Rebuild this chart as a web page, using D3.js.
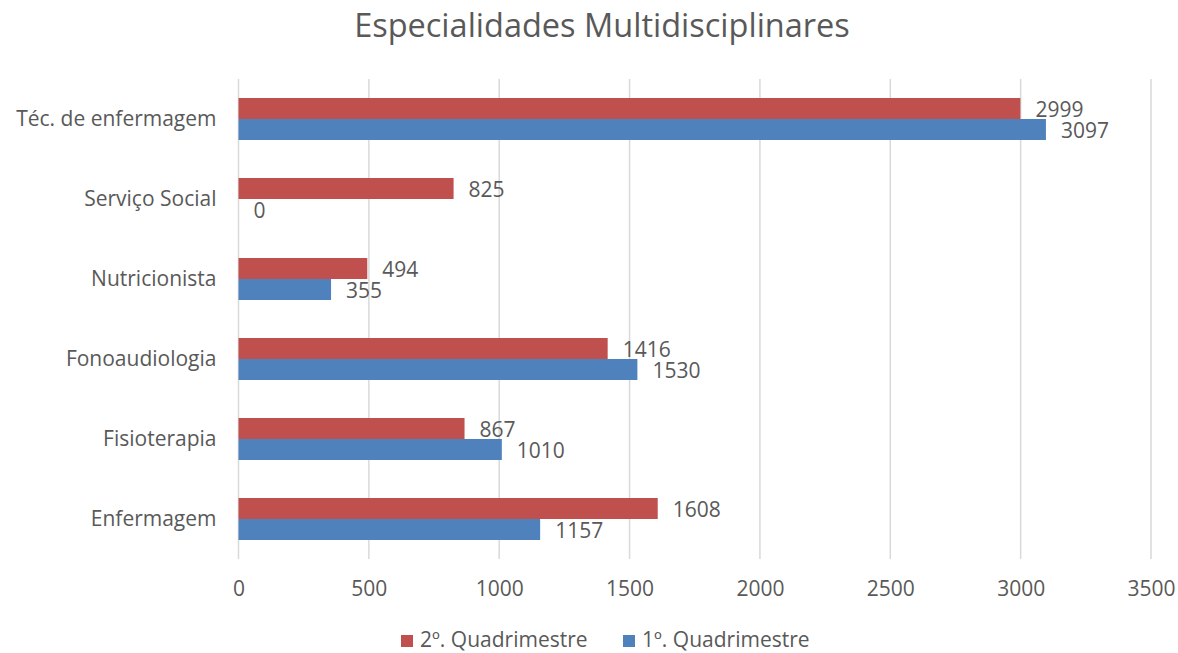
<!DOCTYPE html>
<html><head><meta charset="utf-8">
<script src="https://cdn.jsdelivr.net/npm/d3@7"></script>
<style>body{margin:0;background:#fff}svg{display:block}text{font-family:"Open Sans",sans-serif;fill:#595959}</style>
</head><body><svg id="c" width="1178" height="653"></svg>
<script>
const categories = ["Téc. de enfermagem","Serviço Social","Nutricionista","Fonoaudiologia","Fisioterapia","Enfermagem"];
const seriesNames = ["2º. Quadrimestre","1º. Quadrimestre"];
const q2 = [2999, 825, 494, 1416, 867, 1608];
const q1 = [3097, 0, 355, 1530, 1010, 1157];
const xTicks = [0,500,1000,1500,2000,2500,3000,3500];
const colors = ["#C0504D","#4F81BD"];

const FONT = "Open Sans";
const FS = "21px";
const svg = d3.select("#c");
const L = 238.5, R = 1151, T = 79, B = 559;
const x = d3.scaleLinear().domain([0,3500]).range([L,R]);
const y = d3.scaleBand().domain(categories).range([T,B]).paddingInner(0.475).paddingOuter(0.2375);
const sub = d3.scaleBand().domain(seriesNames).range([0,y.bandwidth()]);

svg.append("text").attr("x",602).attr("y",37).attr("text-anchor","middle").style("font-size","32.5px").text("Especialidades Multidisciplinares");

svg.append("g").selectAll("line").data(xTicks).join("line")
  .attr("x1",d=>x(d)).attr("x2",d=>x(d)).attr("y1",T).attr("y2",B)
  .attr("stroke","#d9d9d9").attr("stroke-width",1.5);

const xa = svg.append("g").attr("transform",`translate(0,${B})`).call(d3.axisBottom(x).tickValues(xTicks).tickSize(0).tickPadding(22).tickFormat(d3.format("d")));
xa.select(".domain").remove();
xa.selectAll("text").style("font-size",FS).style("font-family",FONT).attr("fill","#595959");

const ya = svg.append("g").attr("transform",`translate(${L},0)`).call(d3.axisLeft(y).tickSize(0).tickPadding(22));
ya.select(".domain").remove();
ya.selectAll("text").style("font-size",FS).style("font-family",FONT).attr("fill","#595959");

const data = [q2,q1];
data.forEach((vals,si)=>{
  const g = svg.append("g");
  g.selectAll("rect").data(vals).join("rect")
    .attr("x",x(0)).attr("y",(d,i)=>y(categories[i])+sub(seriesNames[si]))
    .attr("width",d=>x(d)-x(0)).attr("height",sub.bandwidth())
    .attr("fill",colors[si]);
  g.selectAll("text").data(vals).join("text")
    .attr("x",d=>x(d)+15).attr("y",(d,i)=>y(categories[i])+sub(seriesNames[si])+sub.bandwidth()/2+1.5)
    .attr("dy","0.35em").style("font-size",FS).text(d=>d);
});

const leg = svg.append("g");
const legX = [401, 623];
seriesNames.forEach((n,i)=>{
  leg.append("rect").attr("x",legX[i]).attr("y",635).attr("width",12).attr("height",12).attr("fill",colors[i]);
  leg.append("text").attr("x",legX[i]+19).attr("y",647).style("font-size",FS).text(n);
});
</script></body></html>
